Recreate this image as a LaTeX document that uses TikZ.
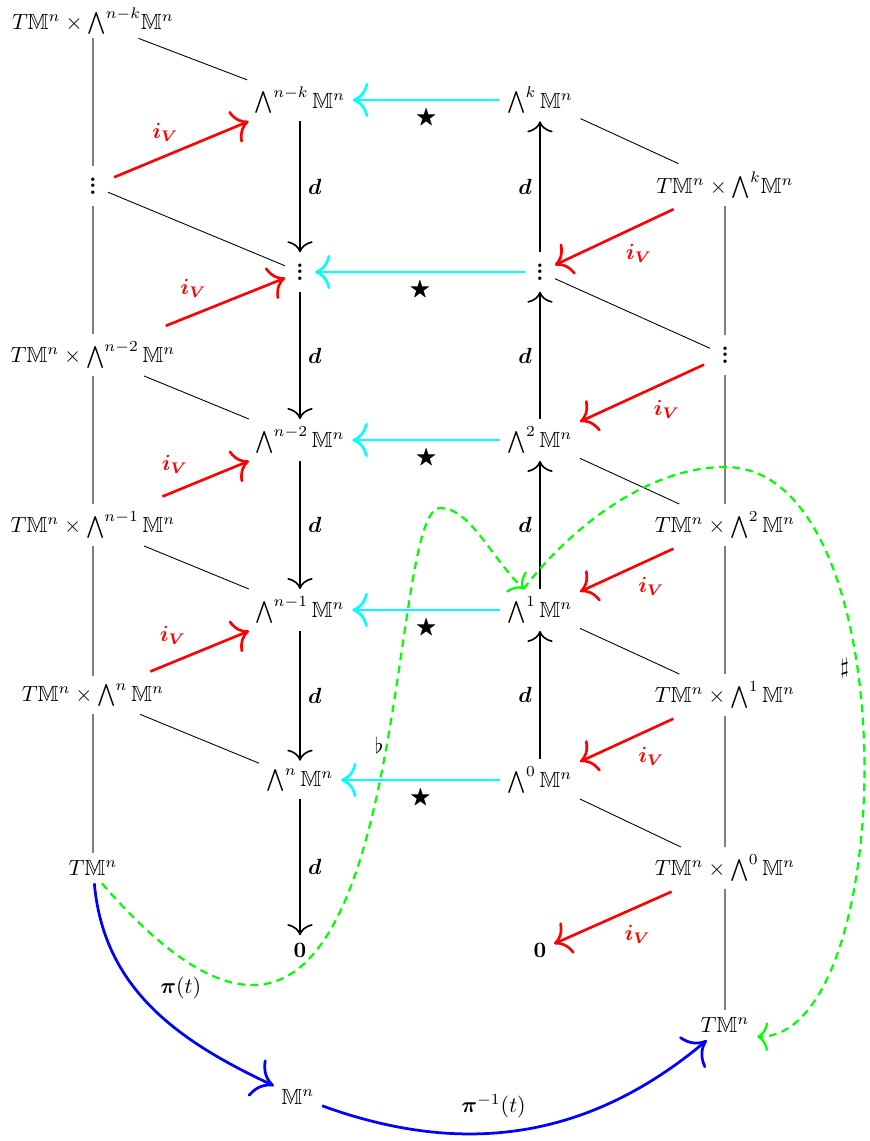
\documentclass[tikz,border=0pt]{standalone}
\usepackage{amsmath,amssymb}
\usetikzlibrary{arrows.meta}
\definecolor{aqua}{RGB}{0,255,255}
\definecolor{lime}{RGB}{0,255,0}
\newcommand{\dotcol}{\vbox{\baselineskip3pt\lineskiplimit0pt\bfseries\hbox{.}\hbox{.}\hbox{.}}}

\begin{document}
\begin{tikzpicture}[x=0.455pt,y=0.455pt,
  bar/.style={gray,line width=0.6pt},
  rung/.style={line width=0.4pt},
  gap/.style={inner sep=5pt},
  dmap/.style={-{To[length=5pt,width=11.5pt]},line width=0.75pt},
  hodge/.style={aqua,-{To[length=7pt,width=15.5pt]},line width=1.2pt},
  contr/.style={red,-{To[length=7pt,width=15.5pt]},line width=1.2pt,shorten <=3pt},
  proj/.style={blue,-{To[length=9pt,width=18.5pt]},line width=1.25pt},
  music/.style={lime,dash pattern=on 3.5pt off 2.5pt,-{To[length=5pt,width=13pt]},line width=1pt},
  lab/.style={text=black}]
\useasboundingbox (0,0) rectangle (870,-1141);
\node[inner sep=1.5pt] (Lk) at (93,-21) {$T\mathbb{M}^n\times{\bigwedge}^{n-k}\mathbb{M}^n$};
\node[gap] (Ld) at (93,-186) {\dotcol};
\node (L2) at (93,-355) {$T\mathbb{M}^n\times\bigwedge^{n-2}\mathbb{M}^n$};
\node (L1) at (93,-525) {$T\mathbb{M}^n\times\bigwedge^{n-1}\mathbb{M}^n$};
\node (L0) at (93,-695) {$T\mathbb{M}^n\times\bigwedge^{n}\mathbb{M}^n$};
\node (LT) at (93,-868) {$T\mathbb{M}^n$};
\node (Ak) at (300,-100) {$\bigwedge^{n-k}\mathbb{M}^n$};
\node[gap] (Ad) at (300,-272) {\dotcol};
\node (A2) at (300,-440) {$\bigwedge^{n-2}\mathbb{M}^n$};
\node (A1) at (300,-610) {$\bigwedge^{n-1}\mathbb{M}^n$};
\node (A0) at (300,-780) {$\bigwedge^{n}\mathbb{M}^n$};
\node (Az) at (300,-950) {$\mathbf{0}$};
\node (Bk) at (540,-100) {$\bigwedge^{k}\mathbb{M}^n$};
\node[gap] (Bd) at (540,-272) {\dotcol};
\node (B2) at (540,-440) {$\bigwedge^{2}\mathbb{M}^n$};
\node (B1) at (540,-610) {$\bigwedge^{1}\mathbb{M}^n$};
\node (B0) at (540,-780) {$\bigwedge^{0}\mathbb{M}^n$};
\node (Bz) at (540,-950) {$\mathbf{0}$};
\node (Rk) at (725,-185) {$T\mathbb{M}^n\times{\bigwedge}^{k}\mathbb{M}^n$};
\node[gap] (Rd) at (725,-355) {\dotcol};
\node (R2) at (725,-525) {$T\mathbb{M}^n\times\bigwedge^{2}\mathbb{M}^n$};
\node (R1) at (725,-695) {$T\mathbb{M}^n\times\bigwedge^{1}\mathbb{M}^n$};
\node (R0) at (725,-868) {$T\mathbb{M}^n\times\bigwedge^{0}\mathbb{M}^n$};
\node (RT) at (725,-1025) {$T\mathbb{M}^n$};
\node (M) at (298,-1097) {$\mathbb{M}^n$};

\draw[bar] (Lk) -- (Ld);
\draw[bar] (Ld) -- (L2);
\draw[bar] (L2) -- (L1);
\draw[bar] (L1) -- (L0);
\draw[bar] (L0) -- (LT);
\draw[bar] (Rk) -- (Rd);
\draw[bar] (Rd) -- (R2);
\draw[bar] (R2) -- (R1);
\draw[bar] (R1) -- (R0);
\draw[bar] (R0) -- (RT);

\draw[rung] (Lk) -- (Ak);
\draw[rung] (Ld) -- (Ad);
\draw[rung] (L2) -- (A2);
\draw[rung] (L1) -- (A1);
\draw[rung] (L0) -- (A0);
\draw[rung] (Bk) -- (Rk);
\draw[rung] (Bd) -- (Rd);
\draw[rung] (B2) -- (R2);
\draw[rung] (B1) -- (R1);
\draw[rung] (B0) -- (R0);

\draw[dmap] (Ak) -- node[right] {$\boldsymbol{d}$} (Ad);
\draw[dmap] (Ad) -- node[right] {$\boldsymbol{d}$} (A2);
\draw[dmap] (A2) -- node[right] {$\boldsymbol{d}$} (A1);
\draw[dmap] (A1) -- node[right] {$\boldsymbol{d}$} (A0);
\draw[dmap] (A0) -- node[right] {$\boldsymbol{d}$} (Az);
\draw[dmap] (Bd) -- node[left] {$\boldsymbol{d}$} (Bk);
\draw[dmap] (B2) -- node[left] {$\boldsymbol{d}$} (Bd);
\draw[dmap] (B1) -- node[left] {$\boldsymbol{d}$} (B2);
\draw[dmap] (B0) -- node[left] {$\boldsymbol{d}$} (B1);

\draw[hodge] (Bk) -- node[below,lab] {$\bigstar$} (Ak);
\draw[hodge] (Bd) -- node[below,lab] {$\bigstar$} (Ad);
\draw[hodge] (B2) -- node[below,lab] {$\bigstar$} (A2);
\draw[hodge] (B1) -- node[below,lab] {$\bigstar$} (A1);
\draw[hodge] (B0) -- node[below,lab] {$\bigstar$} (A0);

\draw[contr] (Ld) -- node[above left,xshift=4pt] {$\boldsymbol{i_V}$} (Ak);
\draw[contr,shorten <=10pt] (L2) -- node[above left] {$\boldsymbol{i_V}$} (Ad);
\draw[contr,shorten <=9pt] (L1) -- node[above left] {$\boldsymbol{i_V}$} (A2);
\draw[contr,shorten <=5pt] (L0) -- node[above left] {$\boldsymbol{i_V}$} (A1);
\draw[contr] (Rk) -- node[below right] {$\boldsymbol{i_V}$} (Bd);
\draw[contr] (Rd) -- node[below right] {$\boldsymbol{i_V}$} (B2);
\draw[contr] (R2) -- node[below right] {$\boldsymbol{i_V}$} (B1);
\draw[contr] (R1) -- node[below right] {$\boldsymbol{i_V}$} (B0);
\draw[contr] (R0) -- node[below right] {$\boldsymbol{i_V}$} (Bz);

\draw[proj] (LT) to[out=-85,in=155] node[above right,lab] {$\boldsymbol{\pi}(t)$} (M);
\draw[proj] (M) to[out=-20,in=-140] node[pos=0.42,above=3pt,lab] {$\boldsymbol{\pi}^{-1}(t)$} (RT);

\draw[music] (LT.-60) .. controls (420,-1250) and (380,-508) .. (440,-508)
  node[pos=0.6,left,inner sep=1pt,lab] {$\flat$}
  .. controls (470,-508) and (490,-556) .. (B1.128);
\draw[music] (B1.128) .. controls (560,-540) and (640,-467) .. (725,-467)
  .. controls (910,-467) and (900,-1038) .. (RT.-20)
  node[pos=0.4,left,lab] {$\sharp$};
\end{tikzpicture}
\end{document}
